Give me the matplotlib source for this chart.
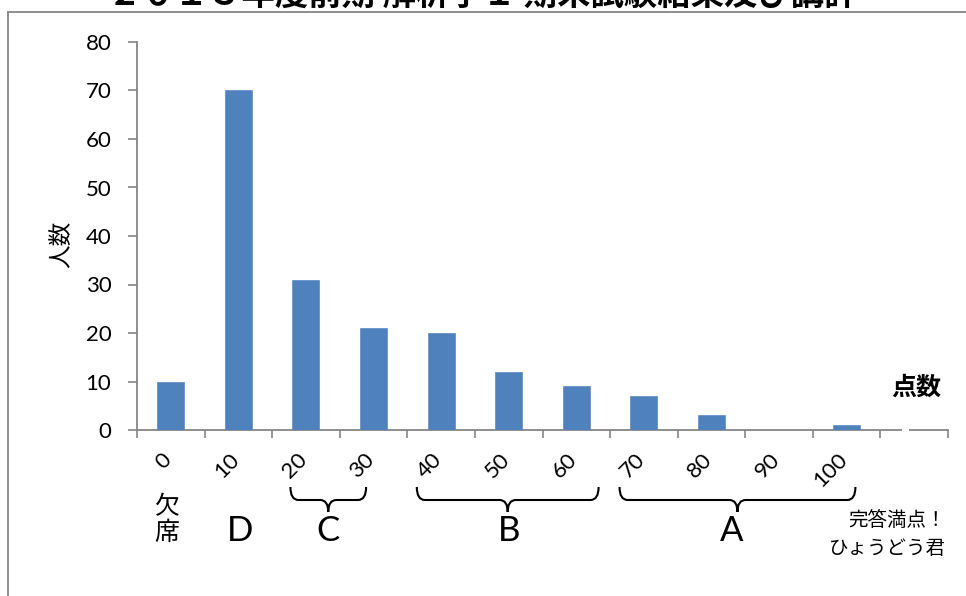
import matplotlib
matplotlib.use("Agg")
import matplotlib.pyplot as plt
from matplotlib.path import Path
from matplotlib.patches import PathPatch, Rectangle
from matplotlib.lines import Line2D
import matplotlib.transforms as mtransforms

plt.rcParams['font.family'] = ['Lato', 'Noto Sans CJK JP', 'DejaVu Sans']

# ---- data ----
categories = ["0", "10", "20", "30", "40", "50", "60", "70", "80", "90", "100", ""]
counts = [10, 70, 31, 21, 20, 12, 9, 7, 3, 0, 1, None]
grades = ["D", "C", "B", "A"]
grade_x = [1.02, 2.32, 5.0, 8.3]
brace_spans = [(1.77, 2.89), (3.64, 6.33), (6.64, 10.13)]
yticks = [0, 10, 20, 30, 40, 50, 60, 70, 80]
title = "２０１３年度前期 解析学Ｉ 期末試験結果及び講評"

W, H = 966, 596
fig = plt.figure(figsize=(W / 100, H / 100), dpi=100)

def fx(px):
    return px / W

def fy(py):
    return 1 - py / H

ax = fig.add_axes([fx(137), fy(430), fx(948) - fx(137), fy(42) - fy(430)])

gray = "#868686"
xs = [i for i, v in enumerate(counts) if v is not None]
vals = [v for v in counts if v is not None]
ax.bar(xs, vals, width=0.4, color="#4F81BD", edgecolor="#5A8AC6", linewidth=0.5, zorder=3)

ax.set_xlim(-0.5, len(categories) - 0.5)
ax.set_ylim(0, 80)
ax.set_yticks(yticks)
ax.set_yticklabels([str(t) for t in yticks], fontsize=16)

ax.set_xticks(range(len(categories)))
ax.set_xticklabels(categories, rotation=45, ha="right", va="top", fontsize=16)
ax.set_xticks([i - 0.5 for i in range(len(categories) + 1)], minor=True)
ax.tick_params(axis="x", which="major", length=0, pad=14)
for lab in ax.get_xticklabels():
    lab.set_transform(lab.get_transform() + mtransforms.ScaledTranslation(5 / 100, 0, fig.dpi_scale_trans))
ax.tick_params(axis="x", which="minor", length=6, width=1.2, color=gray, direction="out")
ax.tick_params(axis="y", which="major", length=6.5, width=1.2, color=gray, direction="out", pad=12)

for s in ["top", "right"]:
    ax.spines[s].set_visible(False)
for s in ["left", "bottom"]:
    ax.spines[s].set_color(gray)
    ax.spines[s].set_linewidth(1.3)

# gap in axis line (text box covering it)
fig.patches.append(Rectangle((fx(902), fy(433)), fx(909) - fx(902), fy(427) - fy(433),
                             transform=fig.transFigure, facecolor="white", edgecolor="none", zorder=10))

# chart frame
fig.add_artist(Line2D([fx(8), fx(8)], [fy(12), 0], transform=fig.transFigure, color=gray, lw=1.3))
fig.add_artist(Line2D([fx(8), 1], [fy(12), fy(12)], transform=fig.transFigure, color=gray, lw=1.3))

# title, partially cut off at top
fig.text(0.5, fy(5), title, ha="center", va="baseline", fontsize=24, fontweight="bold",
         family=["Noto Sans CJK JP"])

# axis labels
fig.text(fx(62), fy(244), "人数", rotation=90, ha="center", va="center", fontsize=17,
         family=["Noto Sans CJK JP"])
fig.text(fx(916), fy(388), "点数", ha="center", va="center", fontsize=18, fontweight="bold",
         family=["Noto Sans CJK JP"])

# grade labels
trans = mtransforms.blended_transform_factory(ax.transData, fig.transFigure)
fig.text(fx(167), fy(520), "欠\n席", ha="center", va="center", fontsize=18, linespacing=0.95,
         family=["Noto Sans CJK JP"])
for g, gx in zip(grades, grade_x):
    ax.text(gx, fy(531), g, transform=trans, ha="center", va="center", fontsize=25,
            family=["Lato"])

# braces
def brace(x0, x1, ytop, yflat, ytip):
    xm = (x0 + x1) / 2
    r = 0.12
    codes = [Path.MOVETO, Path.CURVE3, Path.CURVE3,
             Path.LINETO, Path.CURVE3, Path.CURVE3,
             Path.MOVETO, Path.CURVE3, Path.CURVE3,
             Path.LINETO, Path.CURVE3, Path.CURVE3]
    verts = [(x0, ytop), (x0, yflat), (x0 + r, yflat),
             (xm - r, yflat), (xm, yflat), (xm, ytip),
             (xm, ytip), (xm, yflat), (xm + r, yflat),
             (x1 - r, yflat), (x1, yflat), (x1, ytop)]
    p = PathPatch(Path(verts, codes), transform=trans, facecolor="none", edgecolor="black",
                  lw=1.5, clip_on=False)
    ax.add_patch(p)

for (b0, b1) in brace_spans:
    brace(b0, b1, fy(487), fy(500), fy(512))

# note
fig.text(fx(946), fy(521), "完答満点！", ha="right", va="center", fontsize=14,
         family=["Noto Sans CJK JP"])
fig.text(fx(946), fy(549), "ひょうどう君", ha="right", va="center", fontsize=14,
         family=["Noto Sans CJK JP"])

fig.savefig("out.png", dpi=100)
